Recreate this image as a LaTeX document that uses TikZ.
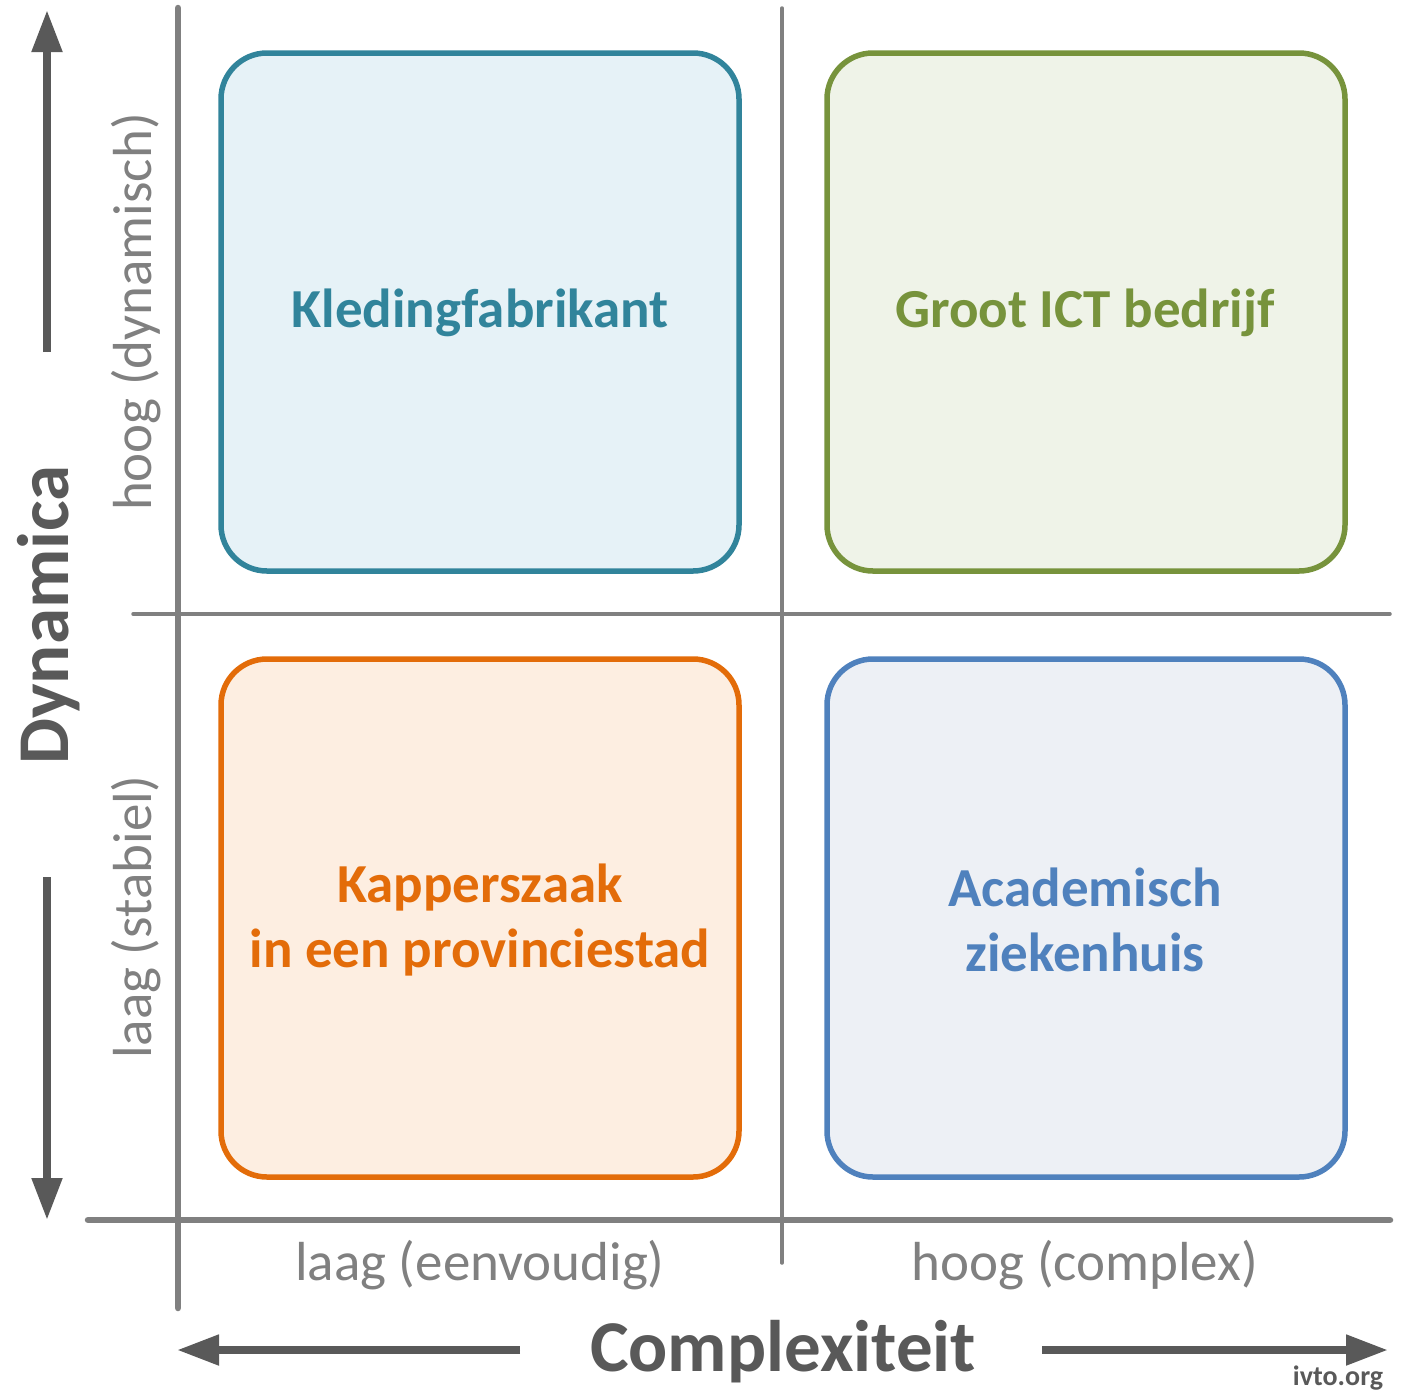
\documentclass[tikz,border=0pt]{standalone}
\usepackage{fontspec}
\setmainfont{Carlito}
\usetikzlibrary{arrows.meta}
\definecolor{axisgray}{HTML}{808080}
\definecolor{darkgray}{HTML}{595959}
\definecolor{tealc}{HTML}{31849B}\definecolor{tealf}{HTML}{E6F2F7}
\definecolor{greenc}{HTML}{77933C}\definecolor{greenf}{HTML}{EFF3E8}
\definecolor{orangec}{HTML}{E36C09}\definecolor{orangef}{HTML}{FDEEE1}
\definecolor{bluec}{HTML}{4F81BD}\definecolor{bluef}{HTML}{EDF0F5}
\tikzset{
  quad/.style={rounded corners=46pt, line width=5.5pt},
  qlabel/.style={font=\fontsize{55}{65}\selectfont\bfseries, align=center},
  ticklabel/.style={text=axisgray, font=\fontsize{55}{60}\selectfont},
  axistitle/.style={text=darkgray, font=\fontsize{73}{78}\selectfont\bfseries},
  bigaxis/.style={draw=axisgray, line width=6.5pt, line cap=round},
  thinaxis/.style={draw=axisgray, line width=3.5pt, line cap=round},
  dirarrow/.style={draw=darkgray, line width=8pt, -{Triangle[length=42pt,width=29pt]}, fill=darkgray}
}
\begin{document}
\begin{tikzpicture}[x=1pt,y=-1pt]
\useasboundingbox (0,0) rectangle (1408,1398);
% coordinates
\coordinate (vtop) at (178,8);
\coordinate (vbot) at (178,1308);
\coordinate (mtop) at (782,8);
\coordinate (mbot) at (782,1263);
\coordinate (hleft) at (133,614);
\coordinate (hright) at (1390,614);
\coordinate (bleft) at (88,1220);
\coordinate (bright) at (1390,1220);
\coordinate (upS) at (47,352);
\coordinate (upE) at (47,10);
\coordinate (dnS) at (47,877);
\coordinate (dnE) at (47,1220);
\coordinate (ltS) at (520,1350);
\coordinate (ltE) at (177,1350);
\coordinate (rtS) at (1042,1350);
\coordinate (rtE) at (1388,1350);
% grid lines
\draw[thinaxis] (mtop) -- (mbot);
\draw[thinaxis] (hleft) -- (hright);
\draw[bigaxis] (vtop) -- (vbot);
\draw[bigaxis] (bleft) -- (bright);
% boxes
\draw[quad, draw=tealc, fill=tealf] (221,53) rectangle (739,571);
\draw[quad, draw=greenc, fill=greenf] (827,53) rectangle (1345,571);
\draw[quad, draw=orangec, fill=orangef] (221,659) rectangle (739,1177);
\draw[quad, draw=bluec, fill=bluef] (827,659) rectangle (1345,1177);
% quadrant labels
\node[qlabel, text=tealc] (kled) at (480,313) {Kledingfabrikant};
\node[qlabel, text=greenc] (ict) at (1085,313) {Groot ICT bedrijf};
\node[qlabel, text=orangec] (kap) at (480,920) {Kapperszaak\\in een provinciestad};
\node[qlabel, text=bluec] (acad) at (1085,920) {Academisch\\ziekenhuis};
% tick labels
\node[ticklabel] (xlow) at (480,1265) {laag (eenvoudig)};
\node[ticklabel] (xhigh) at (1085,1265) {hoog (complex)};
\node[ticklabel, rotate=90] (yhigh) at (136,312) {hoog (dynamisch)};
\node[ticklabel, rotate=90] (ylow) at (136,917) {laag (stabiel)};
% axis titles
\node[axistitle, rotate=90] (dyn) at (49,615) {Dynamica};
\node[axistitle] (comp) at (783,1352) {Complexiteit};
\node[text=darkgray, font=\fontsize{28}{32}\selectfont\bfseries] (ivto) at (1338,1378) {ivto.org};
% direction arrows
\draw[dirarrow] (upS) -- (upE);
\draw[dirarrow] (dnS) -- (dnE);
\draw[dirarrow] (ltS) -- (ltE);
\draw[dirarrow] (rtS) -- (rtE);
\end{tikzpicture}
\end{document}
